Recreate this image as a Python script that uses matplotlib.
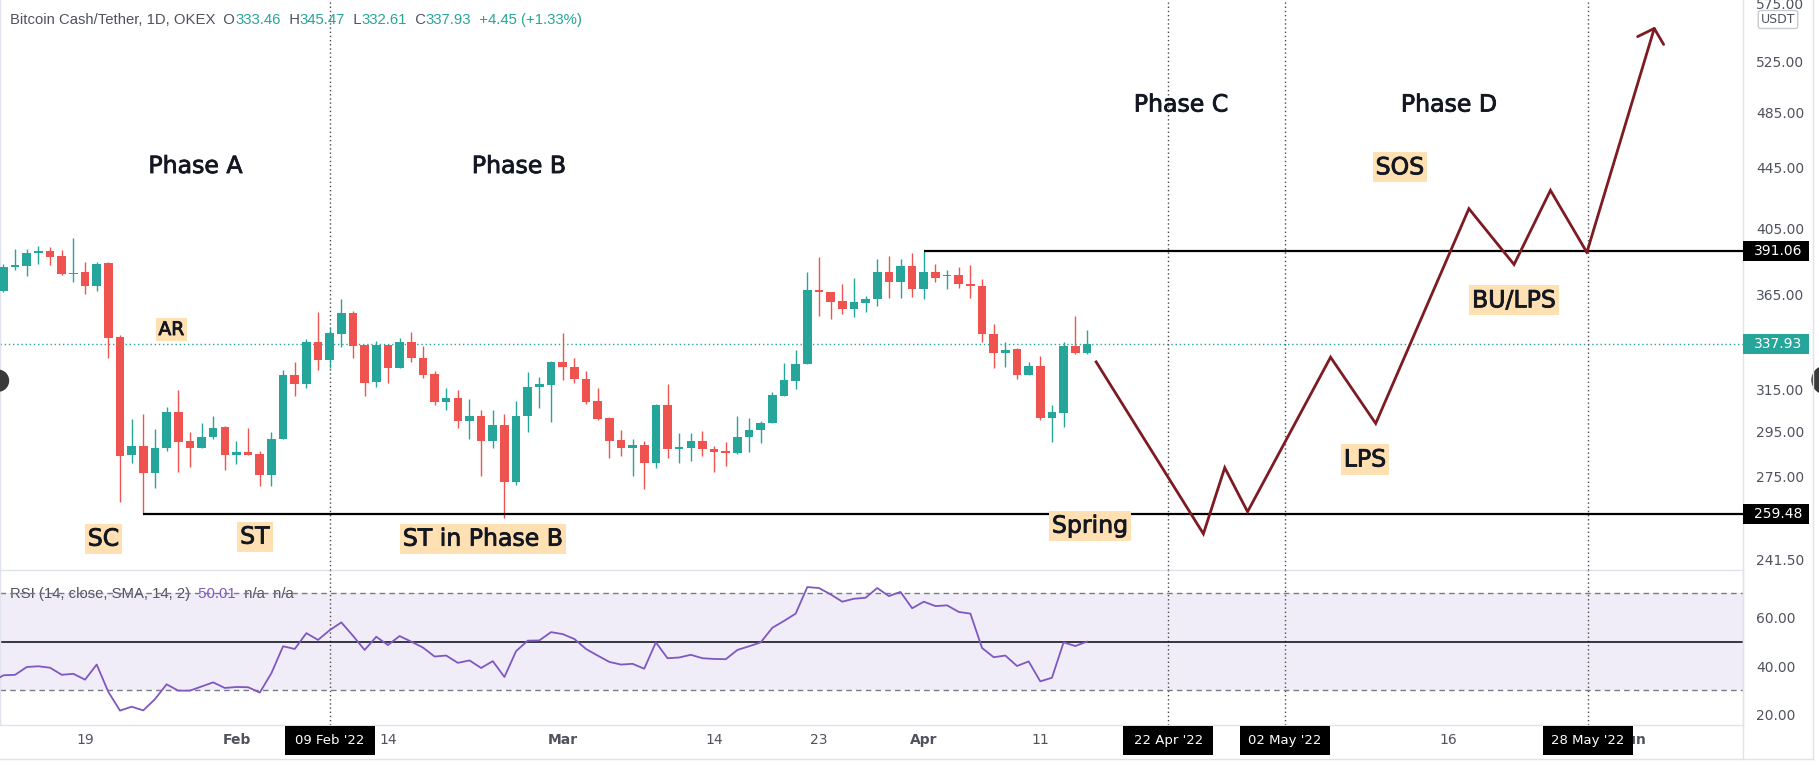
import matplotlib
matplotlib.use('Agg')
import matplotlib.pyplot as plt
import matplotlib.dates as mdates
import matplotlib.transforms as mtransforms
import matplotlib.patheffects as pe
from matplotlib.patches import Rectangle, Circle
from matplotlib.lines import Line2D
from matplotlib.offsetbox import TextArea, HPacker, AnnotationBbox
from matplotlib.ticker import NullLocator, NullFormatter
import numpy as np
import pandas as pd

UP = '#26a69a'
DOWN = '#ef5350'
GREY = '#50535e'
INK = '#131722'
PATH = '#7d1a22'
TAG_BG = '#ffe0b2'

# daily candles, BCH/USDT (OKEX)
dates = pd.date_range('2022-01-12', '2022-04-15', freq='D')
opens = [367.2, 381.2, 382.0, 389.4, 390.9, 387.6, 377.1, 378.1, 369.9, 383.4,
         341.6, 284.5, 288.6, 276.5, 287.7, 303.9, 290.7, 287.7, 292.3, 296.9,
         284.5, 285.7, 284.8, 275.8, 291.4, 322.2, 317.8, 339.0, 329.6, 343.6,
         354.7, 337.6, 318.8, 337.6, 325.9, 339.0, 331.0, 322.7, 309.0, 310.6,
         299.9, 302.4, 290.8, 298.0, 272.7, 302.2, 316.0, 317.3,
         328.9, 326.2, 320.2, 309.2, 301.1, 291.1, 287.4, 288.9, 281.0, 307.3,
         286.9, 287.7, 290.7, 286.9, 286.2, 285.4, 292.3, 295.7, 298.8, 312.0,
         319.3, 327.5, 367.8, 366.9, 361.5, 357.1, 360.6, 362.5, 378.5, 372.2,
         381.6,
         368.2, 378.5, 375.7, 376.5, 371.4, 370.1, 343.2, 333.2, 335.3, 322.3,
         326.7, 301.1, 303.5, 337.2, 333.46]
highs = [382.8, 391.9, 392.1, 393.9, 393.3, 391.5, 398.9, 384.2, 384.2, 384.2,
         342.9, 300.6, 303.0, 296.0, 306.3, 314.9, 294.9, 298.8, 302.2, 297.5,
         290.7, 296.5, 286.2, 294.9, 324.7, 328.9, 340.6, 355.4, 346.5, 362.7,
         356.0, 337.6, 339.5, 337.6, 341.5, 344.5, 337.2, 324.2, 315.5, 314.9,
         310.3, 304.9, 304.9, 303.0, 309.4, 323.7, 321.0, 329.4,
         343.8, 331.0, 324.2, 315.5, 301.9, 295.9, 291.6, 290.7, 307.8, 317.5,
         294.5, 294.5, 295.4, 288.6, 290.2, 302.0, 301.1, 300.0, 313.6, 328.4,
         335.1, 378.1, 387.0, 366.9, 371.4, 374.6, 364.6, 385.8, 387.8, 386.0,
         389.4,
         391.06, 382.8, 379.5, 381.0, 382.4, 374.0, 348.6, 339.0, 335.8, 328.6,
         332.0, 307.4, 339.3, 353.4, 345.47]
lows = [366.9, 379.5, 375.9, 383.0, 382.4, 376.5, 372.6, 365.7, 367.4, 330.6,
        264.4, 281.0, 259.48, 270.0, 286.3, 276.9, 279.1, 287.4, 291.4, 278.0,
        280.6, 284.4, 271.0, 271.0, 291.4, 312.0, 315.9, 324.8, 325.5, 336.4,
        330.6, 312.0, 316.4, 318.3, 325.9, 328.9, 320.8, 307.4, 305.1, 296.5,
        291.4, 275.4, 287.4, 257.6, 271.4, 294.6, 306.0, 299.2,
        319.8, 318.0, 307.8, 300.3, 283.2, 283.8, 275.4, 269.7, 278.5, 283.2,
        281.0, 281.9, 284.1, 277.1, 279.7, 285.0, 285.9, 289.9, 298.8, 312.0,
        315.4, 327.5, 353.4, 351.6, 354.1, 352.8, 355.2, 358.9, 363.4, 363.1,
        364.0,
        362.5, 372.2, 368.2, 369.1, 363.1, 339.0, 325.5, 326.4, 320.3, 322.3,
        300.3, 290.4, 296.9, 332.7, 332.61]
closes = [381.4, 382.2, 389.4, 390.9, 387.4, 377.1, 377.9, 369.9, 382.8, 341.1,
          284.1, 288.6, 276.5, 287.5, 303.9, 290.4, 287.7, 292.6, 296.5, 284.5,
          285.7, 284.5, 275.8, 291.6, 322.2, 317.8, 339.0, 329.6, 343.8, 354.7,
          337.2, 318.3, 337.6, 325.9, 339.0, 330.8, 322.3, 309.0, 310.6, 299.9,
          302.4, 290.8, 298.0, 272.7, 302.4, 316.0, 317.5, 328.9,
          326.0, 320.0, 309.0, 300.8, 290.8, 287.4, 288.9, 281.0, 307.3, 286.9,
          287.9, 290.7, 286.9, 285.9, 285.4, 292.5, 295.7, 299.1, 312.3, 319.7,
          327.7, 367.8, 366.5, 361.2, 357.1, 361.0, 362.9, 378.5, 372.2, 381.6,
          368.2,
          378.5, 374.9, 376.5, 371.1, 370.1, 343.2, 333.4, 335.0, 322.3, 326.7,
          301.1, 303.9, 337.2, 333.46, 337.93]

# RSI(14)
rsi_dates = pd.date_range('2022-01-11', '2022-04-15', freq='D')
rsi = [33.5, 36.2, 36.4, 39.6, 39.9, 39.3, 36.4, 36.8, 34.4, 40.6, 29.4,
       21.7, 23.3, 21.8, 26.4, 32.5, 29.9, 29.9, 31.6, 33.3, 31.0,
       31.4, 31.3, 29.1, 37.1, 48.1, 47.0, 53.5, 50.7, 54.7, 57.9,
       52.4, 46.6, 52.0, 48.6, 52.3, 50.0, 47.6, 43.9, 44.3, 41.3,
       42.3, 39.2, 42.0, 35.5, 46.1, 50.4, 50.5, 53.9,
       53.1, 51.1, 47.0, 44.3, 41.7, 40.6, 40.9, 38.9, 49.7, 43.2,
       43.5, 44.6, 43.2, 42.9, 42.8, 46.6, 48.1, 49.7, 55.7, 58.5,
       61.5, 72.4, 72.0, 69.4, 66.4, 67.6, 68.0, 72.0, 68.7, 70.4, 63.7,
       66.4, 64.6, 64.9, 62.2, 61.5, 47.4, 43.6, 44.3, 40.0, 41.9,
       33.7, 35.2, 49.7, 48.2, 50.01]

# projected path (Wyckoff accumulation)
path_dates = pd.to_datetime(['2022-04-15 19:00', '2022-04-25 00:00', '2022-04-26 20:00',
                             '2022-04-28 19:00', '2022-05-05 22:00', '2022-05-09 19:00',
                             '2022-05-17 19:00', '2022-05-21 16:00', '2022-05-24 19:00',
                             '2022-05-27 22:00', '2022-06-02 18:00'])
path_prices = [328.8, 251.5, 278.8, 260.3, 331.2, 298.7, 417.5, 382.7, 429.6, 390.0, 554.5]

levels = [391.06, 259.48]
level_start = pd.to_datetime(['2022-04-01', '2022-01-24'])

marked_dates = pd.to_datetime(['2022-02-09', '2022-04-22', '2022-05-02', '2022-05-28'])
marked_text = ["09 Feb '22", "22 Apr '22", "02 May '22", "28 May '22"]

phase_text = ['Phase A', 'Phase B', 'Phase C', 'Phase D']
phase_dates = pd.to_datetime(['2022-01-28 11:30', '2022-02-25 06:00',
                              '2022-04-23 02:00', '2022-05-16 02:00'])
phase_prices = [446.2, 446.2, 491.1, 491.1]

tag_text = ['AR', 'SC', 'ST', 'ST in Phase B', 'Spring', 'LPS', 'SOS', 'BU/LPS']
tag_dates = pd.to_datetime(['2022-01-26 10:00', '2022-01-20 14:00', '2022-02-02 14:00',
                            '2022-02-22 04:00', '2022-04-15 06:30', '2022-05-08 21:00',
                            '2022-05-11 21:00', '2022-05-21 16:00'])
tag_prices = [345.8, 249.6, 250.4, 249.6, 254.7, 282.4, 445.3, 361.9]
tag_sizes = [13.5, 17, 17, 17, 17, 17, 17, 17]

price_ticks = [241.5, 275, 295, 315, 365, 405, 445, 485, 525, 575]
rsi_ticks = [20, 40, 60]
tick_dates = pd.to_datetime(['2022-01-19', '2022-02-01', '2022-02-14', '2022-03-01',
                             '2022-03-14', '2022-03-23', '2022-04-01', '2022-04-11',
                             '2022-05-16', '2022-06-01'])
tick_text = ['19', 'Feb', '14', 'Mar', '14', '23', 'Apr', '11', '16', 'Jun']

# ---------------------------------------------------------------
W, H = 1819, 765
fig = plt.figure(figsize=(W / 100, H / 100), dpi=100)
fig.patch.set_facecolor('white')


def fbox(l, t, r, b):
    return [l / W, 1 - b / H, (r - l) / W, (b - t) / H]


ax = fig.add_axes(fbox(0, 0, 1743, 570))
rax = fig.add_axes(fbox(0, 570, 1743, 725), sharex=ax)

x = mdates.date2num(dates)
o, h, l, c = map(np.array, (opens, highs, lows, closes))
cols = np.where(c >= o, UP, DOWN)

ax.set_yscale('log')
ax.vlines(x, l, h, colors=cols, lw=1.0, zorder=3)
ax.bar(x, np.abs(c - o), bottom=np.minimum(o, c), width=0.74, color=cols,
       linewidth=0, zorder=4)

x0 = mdates.date2num(pd.Timestamp('2022-01-19'))
ax.set_xlim(x0 - 7.3, x0 + 142.32)
ax.set_ylim(237.7, 578.0)

# current price line
ax.axhline(closes[-1], color=UP, ls=(0, (1, 2)), lw=1, zorder=1)

# support / resistance
xmax = ax.get_xlim()[1]
for lv, st in zip(levels, level_start):
    ax.plot([mdates.date2num(st), xmax], [lv, lv], color='black', lw=1.6, zorder=5,
            solid_capstyle='butt')

# vertical markers
for d in marked_dates:
    for a in (ax, rax):
        a.axvline(mdates.date2num(d), color='#4a4a4a', ls=(0, (1, 2)), lw=1, zorder=1)

# projected path
px = mdates.date2num(path_dates)
ax.plot(px[:-1], path_prices[:-1], color=PATH, lw=2, zorder=6, solid_joinstyle='miter')
ax.annotate('', xy=(px[-1], path_prices[-1]), xytext=(px[-2], path_prices[-2]),
            arrowprops=dict(arrowstyle='->,head_length=0.65,head_width=0.7', color=PATH,
                            lw=2, shrinkA=0, shrinkB=0, mutation_scale=14), zorder=6)

# labels (slightly heavier strokes, like the screen font)
heavy = [pe.withStroke(linewidth=0.6, foreground=INK)]
for t, d, p in zip(phase_text, phase_dates, phase_prices):
    ax.text(mdates.date2num(d), p, t, fontsize=17, color=INK, ha='center', va='center',
            zorder=7, path_effects=heavy)
for t, d, p, s in zip(tag_text, tag_dates, tag_prices, tag_sizes):
    ax.text(mdates.date2num(d), p, t, fontsize=s, color=INK, ha='center', va='center',
            zorder=7, path_effects=heavy,
            bbox=dict(boxstyle='square,pad=0.13', fc=TAG_BG, ec='none'))

# price scale
ax.yaxis.tick_right()
ax.yaxis.set_minor_locator(NullLocator())
ax.yaxis.set_minor_formatter(NullFormatter())
ax.set_yticks(price_ticks)
ax.set_yticklabels([f'{v:.2f}' for v in price_ticks])
ax.yaxis.set_minor_locator(NullLocator())
ax.tick_params(axis='y', length=0, pad=9.4, labelsize=10, labelcolor=GREY)
ax.tick_params(axis='x', length=0, labelbottom=False)

ytr = mtransforms.blended_transform_factory(ax.transAxes, ax.transData)
for val, bg in ((391.06, 'black'), (closes[-1], UP), (259.48, 'black')):
    tr = mtransforms.ScaledTranslation(1.0, val, ytr)
    ax.add_patch(Rectangle((0, -10), 66, 20, transform=tr, fc=bg, ec='none',
                           clip_on=False, zorder=10))
    ax.text(35, 0, f'{val:.2f}', transform=tr, color='white', fontsize=10,
            ha='center', va='center', clip_on=False, zorder=11)

# RSI pane
rx = mdates.date2num(rsi_dates)
rax.axhspan(30, 70, color='#7e57c2', alpha=0.1, lw=0, zorder=0)
rax.axhline(70, color='#787b86', ls=(0, (4, 3)), lw=1, zorder=1)
rax.axhline(30, color='#787b86', ls=(0, (4, 3)), lw=1, zorder=1)
rax.axhline(50, color=INK, lw=1.2, zorder=1)
rax.plot(rx, rsi, color='#7e57c2', lw=1.3, zorder=3)
rax.set_ylim(15.8, 79.4)
rax.yaxis.tick_right()
rax.set_yticks(rsi_ticks)
rax.set_yticklabels([f'{v:.2f}' for v in rsi_ticks])
rax.tick_params(axis='y', length=0, pad=9.4, labelsize=10, labelcolor=GREY)

rax.set_xticks(mdates.date2num(tick_dates))
rax.set_xticklabels(tick_text)
rax.tick_params(axis='x', length=0, pad=6, labelsize=10, labelcolor=GREY)
for lab in rax.get_xticklabels():
    if lab.get_text().isalpha():
        lab.set_fontweight('bold')

xtr = mtransforms.blended_transform_factory(rax.transData, rax.transAxes)
for d, t in zip(marked_dates, marked_text):
    tr = mtransforms.ScaledTranslation(mdates.date2num(d), 0, xtr)
    rax.add_patch(Rectangle((-45, -30), 90, 29.5, transform=tr, fc='black', ec='none',
                            clip_on=False, zorder=10))
    rax.text(0, -15.5, t, transform=tr, color='white', fontsize=9.5, ha='center',
             va='center', clip_on=False, zorder=11)

for a in (ax, rax):
    for side in ('top', 'left', 'right', 'bottom'):
        a.spines[side].set_color('#e0e3eb')
        a.spines[side].set_linewidth(1)
    a.spines['top'].set_visible(False)
    a.set_facecolor('none')

# frame pieces outside the panes
def fline(xs, ys):
    fig.add_artist(Line2D([v / W for v in xs], [1 - v / H for v in ys],
                          color='#e0e3eb', lw=1, transform=fig.transFigure))

fline([1743, 1743], [570, 759])
fline([0, 1813], [759, 759])
fline([1813, 1813], [0, 759])

# headers
def header(parts, xy):
    boxes = [TextArea(s, textprops=dict(color=col, fontsize=10.7, family='Liberation Sans'))
             for s, col in parts]
    pack = HPacker(children=boxes, sep=0, pad=0, align='baseline')
    ab = AnnotationBbox(pack, xy, xycoords='figure pixels', box_alignment=(0, 0.5),
                        frameon=False, pad=0)
    ax.add_artist(ab)

header([('Bitcoin Cash/Tether, 1D, OKEX', GREY), ('  O', GREY), ('333.46', UP),
        ('  H', GREY), ('345.47', UP), ('  L', GREY), ('332.61', UP),
        ('  C', GREY), ('337.93', UP), ('  +4.45 (+1.33%)', UP)], (10, H - 20))
header([('RSI (14, close, SMA, 14, 2)', GREY), ('  50.01', '#7e57c2'),
        ('  n/a  n/a', GREY)], (10, H - 594))

fig.text(1778 / W, 1 - 19.5 / H, 'USDT', fontsize=9, color=GREY, ha='center', va='center',
         bbox=dict(boxstyle='round,pad=0.2', fc='white', ec='#c9cbd1', lw=1))

# scroll buttons at the pane edges
fig.add_artist(Circle((-2, H - 380.7), 10.5, color='#3a3a3a',
                      transform=mtransforms.IdentityTransform()))
fig.add_artist(Circle((1826, H - 380), 14, color='#3a3a3a',
                      transform=mtransforms.IdentityTransform()))

fig.savefig('out.png', dpi=100)
